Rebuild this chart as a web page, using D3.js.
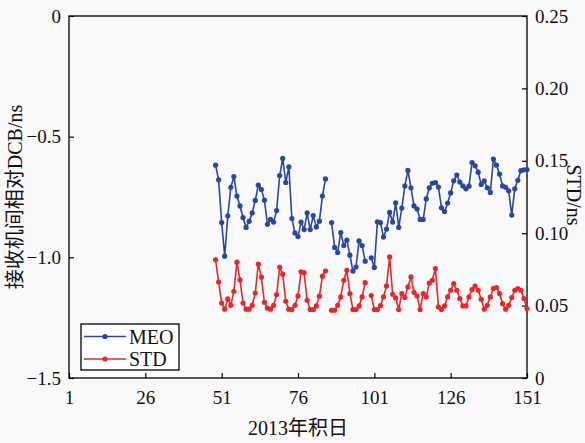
<!DOCTYPE html>
<html>
<head>
<meta charset="UTF-8">
<script src="https://d3js.org/d3.v7.min.js"></script>
<style>
  body { margin: 0; background: #f9f9f9; }
  text { font-family: "Liberation Serif", "Noto Sans CJK SC", serif; fill: #111; }
</style>
</head>
<body>
<svg id="chart" width="585" height="443"></svg>
<script>
// day of year 2013, 49..151 (null = missing day)
const days = d3.range(49, 152);
const meo = [
  -0.618, -0.679, -0.856, -0.995, -0.828, -0.710, -0.665, -0.746, -0.787, -0.835,
  -0.876, -0.851, -0.816, -0.764, -0.701, -0.719, -0.763, -0.863, -0.843, -0.854,
  -0.806, -0.661, -0.590, -0.690, -0.625, -0.839, -0.899, -0.914, -0.854, -0.885,
  -0.816, -0.885, -0.827, -0.874, -0.850, -0.746, -0.675, null,   -0.856, -0.959,
  -0.980, -0.897, -0.951, -0.929, -0.991, -1.057, -1.040, -0.932, -0.951, -1.016,
  null,   -1.002, -1.042, -0.853, -0.856, -0.916, -0.883, -0.814, -0.854, -0.774,
  -0.876, -0.796, -0.704, -0.640, -0.712, -0.787, -0.800, -0.843, -0.843, -0.758,
  -0.712, -0.693, -0.690, -0.709, -0.795, -0.810, -0.775, -0.733, -0.683, -0.659,
  -0.688, -0.704, -0.716, -0.705, -0.607, -0.621, -0.647, -0.698, -0.683, -0.712,
  -0.731, -0.593, -0.618, -0.655, -0.704, -0.710, -0.724, -0.825, -0.716, -0.681,
  -0.641, -0.637, -0.636
];
const std = [
  0.0816, 0.0663, 0.0518, 0.0475, 0.0546, 0.0502, 0.0599, 0.0800, 0.0677, 0.0518,
  0.0475, 0.0475, 0.0502, 0.0587, 0.0786, 0.0696, 0.0523, 0.0482, 0.0475, 0.0502,
  0.0576, 0.0765, 0.0717, 0.0530, 0.0475, 0.0473, 0.0502, 0.0567, 0.0733, 0.0728,
  0.0537, 0.0473, 0.0473, 0.0498, 0.0565, 0.0703, 0.0739, null,   0.0468, 0.0468,
  0.0502, 0.0560, 0.0675, 0.0744, 0.0583, 0.0473, 0.0473, 0.0498, 0.0560, 0.0658,
  null,   0.0569, 0.0473, 0.0473, 0.0500, 0.0560, 0.0636, 0.0836, 0.0578, 0.0553,
  0.0473, 0.0583, 0.0556, 0.0629, 0.0698, 0.0592, 0.0567, 0.0473, 0.0583, 0.0560,
  0.0656, 0.0675, 0.0756, 0.0491, 0.0473, 0.0498, 0.0560, 0.0606, 0.0652, 0.0606,
  0.0549, 0.0498, 0.0498, 0.0560, 0.0611, 0.0634, 0.0606, 0.0544, 0.0475, 0.0502,
  0.0560, 0.0618, 0.0625, 0.0583, 0.0514, 0.0475, 0.0502, 0.0556, 0.0606, 0.0618,
  0.0606, 0.0549, 0.0480
];
const xTicks = [1, 26, 51, 76, 101, 126, 151];
const leftTicks = [0, -0.5, -1.0, -1.5];
const rightTicks = [0, 0.05, 0.10, 0.15, 0.20, 0.25];

const m = { left: 69, right: 527, top: 16, bottom: 378 };
const blue = "#2a46a0", red = "#e8262c";

const svg = d3.select("#chart");
const x = d3.scaleLinear().domain([1, 151]).range([m.left, m.right]);
const yL = d3.scaleLinear().domain([-1.5, 0]).range([m.bottom, m.top]);
const yR = d3.scaleLinear().domain([0, 0.25]).range([m.bottom, m.top]);

// frame
svg.append("rect")
  .attr("x", m.left).attr("y", m.top)
  .attr("width", m.right - m.left).attr("height", m.bottom - m.top)
  .attr("fill", "none").attr("stroke", "#000").attr("stroke-width", 1.3);

const fmtL = d => d === 0 ? "0" : d.toFixed(1).replace("-", "\u2212");
const fmtR = d => d === 0 ? "0" : d.toFixed(2);

const axL = svg.append("g").attr("transform", `translate(${m.left},0)`)
  .call(d3.axisLeft(yL).tickValues(leftTicks).tickFormat(fmtL).tickSizeInner(-5).tickSizeOuter(0).tickPadding(8));
const axR = svg.append("g").attr("transform", `translate(${m.right},0)`)
  .call(d3.axisRight(yR).tickValues(rightTicks).tickFormat(fmtR).tickSizeInner(-5).tickSizeOuter(0).tickPadding(8));
const axB = svg.append("g").attr("transform", `translate(0,${m.bottom})`)
  .call(d3.axisBottom(x).tickValues(xTicks).tickFormat(d3.format("d")).tickSizeInner(-5).tickSizeOuter(0).tickPadding(8));

[axL, axR, axB].forEach(a => {
  a.attr("font-family", null);
  a.select(".domain").remove();
  a.selectAll("line").attr("stroke", "#000").attr("stroke-width", 1.2);
  a.selectAll("text").attr("font-size", 19).attr("fill", "#111");
});
axB.selectAll("text").attr("dy", "0.95em");

// series
const rows = days.map((d, i) => ({ day: d, meo: meo[i], std: std[i] }));

function drawSeries(key, scale, color) {
  const line = d3.line()
    .defined(d => d[key] != null)
    .x(d => x(d.day)).y(d => scale(d[key]));
  svg.append("path").datum(rows)
    .attr("d", line).attr("fill", "none")
    .attr("stroke", color).attr("stroke-width", 1.6);
  svg.append("g").selectAll("circle")
    .data(rows.filter(d => d[key] != null))
    .join("circle")
    .attr("cx", d => x(d.day)).attr("cy", d => scale(d[key]))
    .attr("r", 2.6).attr("fill", color);
}
drawSeries("meo", yL, blue);
drawSeries("std", yR, red);

// legend
const lg = svg.append("g").attr("transform", "translate(81,324)");
lg.append("rect").attr("width", 98).attr("height", 46)
  .attr("fill", "#fff").attr("stroke", "#000").attr("stroke-width", 1.3);
[["MEO", blue], ["STD", red]].forEach(([name, c], i) => {
  const yy = 12.5 + i * 22.5;
  lg.append("line").attr("x1", 3).attr("x2", 45).attr("y1", yy).attr("y2", yy)
    .attr("stroke", c).attr("stroke-width", 1.6);
  lg.append("circle").attr("cx", 24).attr("cy", yy).attr("r", 2.6).attr("fill", c);
  lg.append("text").attr("x", 48).attr("y", yy).attr("dy", "0.35em")
    .attr("font-size", 20).text(name);
});

// axis titles
svg.append("text")
  .attr("transform", "translate(22,197) rotate(-90)")
  .attr("text-anchor", "middle").attr("font-size", 20)
  .text("接收机间相对DCB/ns");
svg.append("text")
  .attr("transform", "translate(567,195) rotate(90)")
  .attr("text-anchor", "middle").attr("font-size", 20)
  .text("STD/ns");
svg.append("text")
  .attr("x", (m.left + m.right) / 2).attr("y", 435)
  .attr("text-anchor", "middle").attr("font-size", 20)
  .text("2013年积日");
</script>
</body>
</html>
